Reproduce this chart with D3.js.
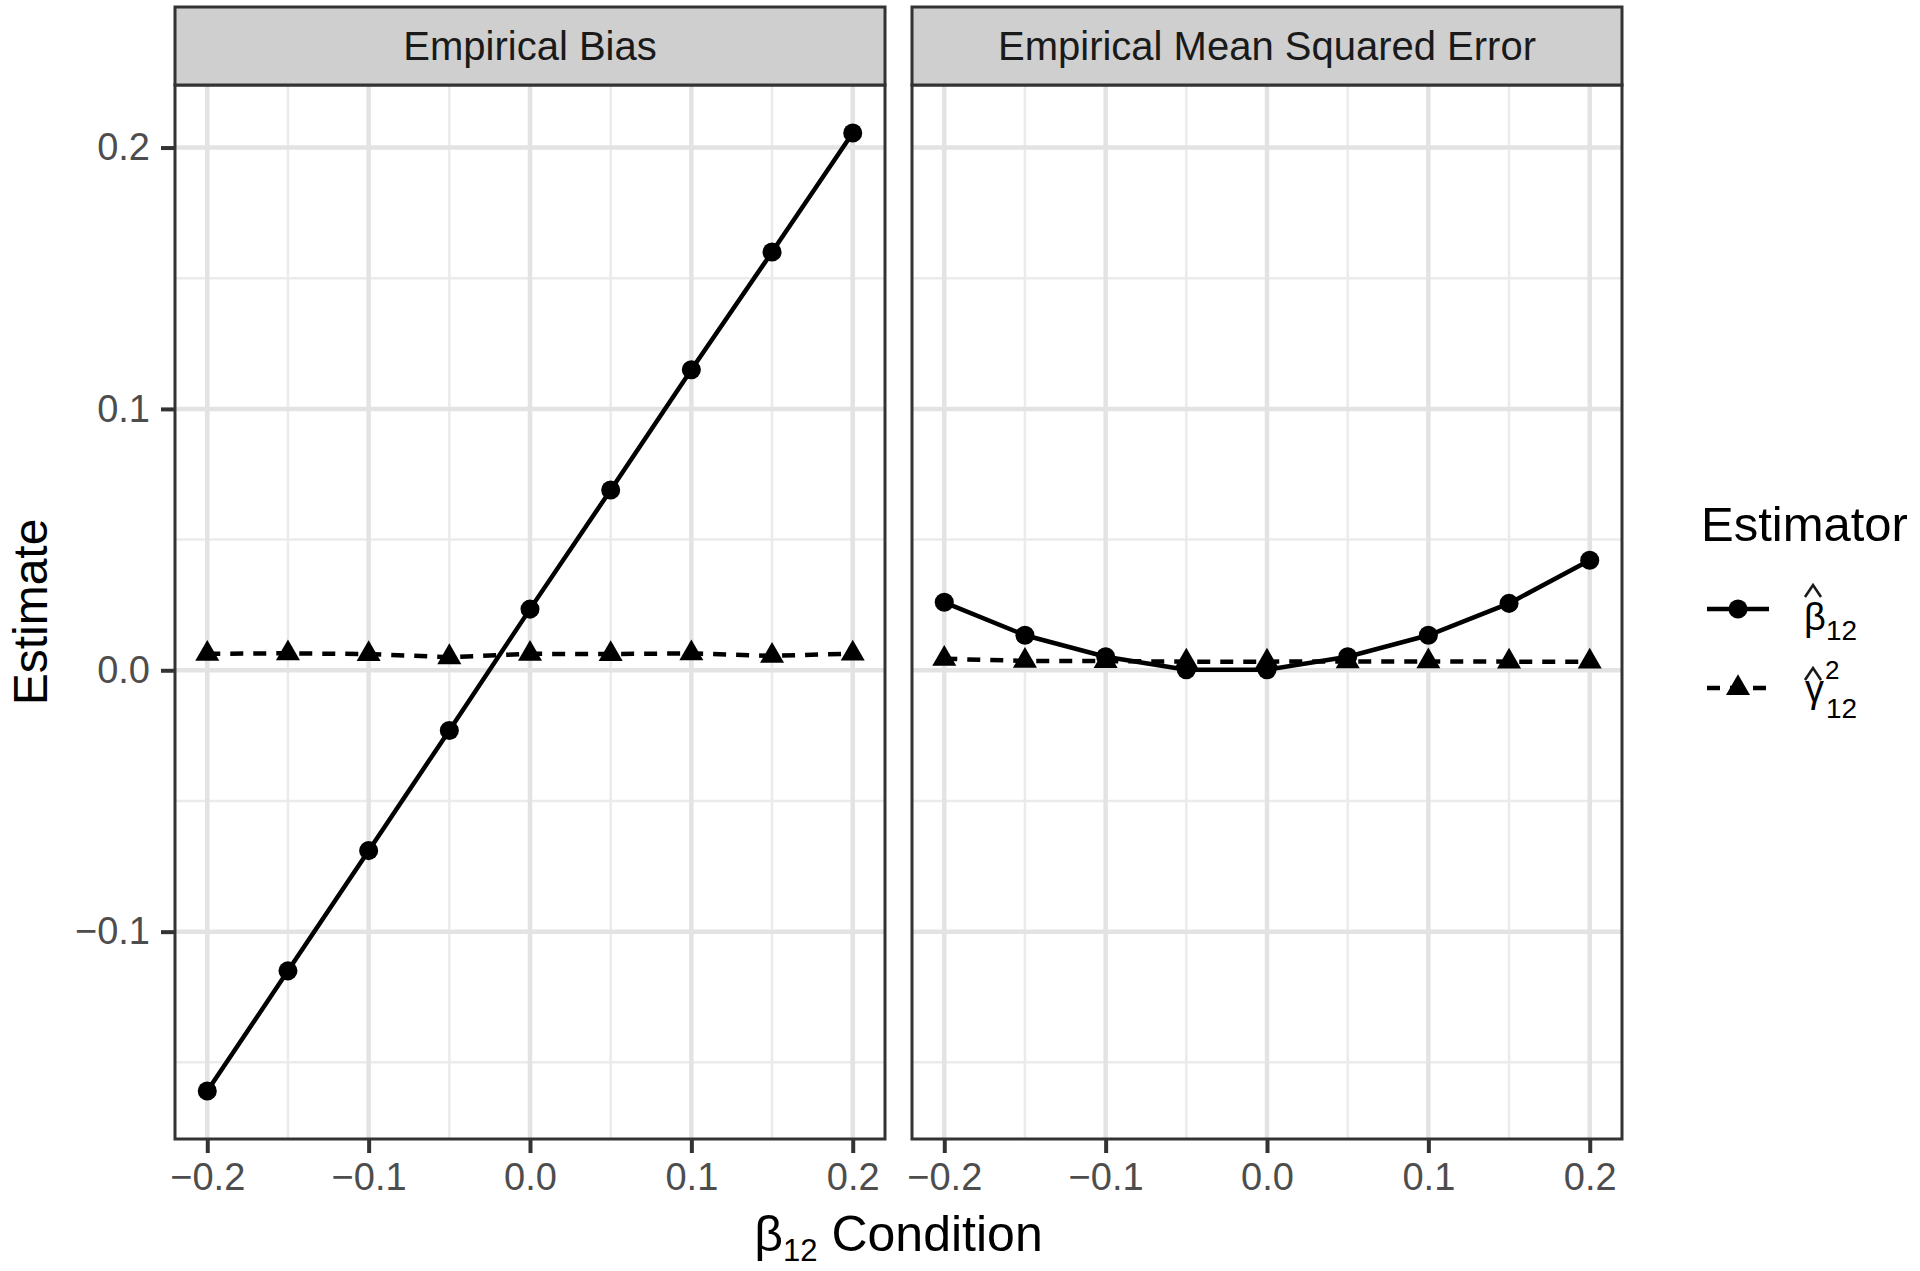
<!DOCTYPE html>
<html>
<head>
<meta charset="utf-8">
<script src="https://cdn.jsdelivr.net/npm/d3@7"></script>
<style>
  body { margin: 0; background: #fff; }
  svg text { font-family: "Liberation Sans", Arial, Helvetica, sans-serif; }
</style>
</head>
<body>
<svg id="chart" width="1920" height="1271"></svg>
<script>
// beta_12 conditions (x axis)
const conditions = [-0.2, -0.15, -0.1, -0.05, 0, 0.05, 0.1, 0.15, 0.2];
const xTicks = [-0.2, -0.1, 0, 0.1, 0.2];
const xMinor = [-0.15, -0.05, 0.05, 0.15];
const yTicks = [-0.1, 0, 0.1, 0.2];
const yMinor = [-0.15, -0.05, 0.05, 0.15];

// empirical bias
const biasBeta = [-0.161, -0.115, -0.069, -0.023, 0.0234, 0.069, 0.115, 0.160, 0.2056];
const biasGamma = [0.0063, 0.0065, 0.0062, 0.0050, 0.0063, 0.0062, 0.0065, 0.0055, 0.0064];
// empirical mean squared error
const mseBeta = [0.026, 0.0134, 0.0052, 0.0002, 0.0002, 0.0052, 0.0134, 0.0256, 0.0421];
const mseGamma = [0.0044, 0.0036, 0.0035, 0.0033, 0.0033, 0.0034, 0.0034, 0.0033, 0.0033];

const facets = ["Empirical Bias", "Empirical Mean Squared Error"];

const svg = d3.select("#chart");

// panel geometry
const panelTop = 85, panelBottom = 1139, stripTop = 7;
const panelX = [[175, 885], [912, 1622]];

// shared y scale, ggplot style 5% expansion
const allY = biasBeta.concat(biasGamma, mseBeta, mseGamma);
const yMin = d3.min(allY), yMax = d3.max(allY);
const pad = (yMax - yMin) * 0.05;
const y = d3.scaleLinear().domain([yMin - pad, yMax + pad]).range([panelBottom, panelTop]);

const xPad = 0.4 * 0.05;
const fmt = d => d === 0 ? "0.0" : (d < 0 ? "\u2212" : "") + Math.abs(d).toFixed(1);

const circle = d3.symbol(d3.symbolCircle, 285);
const triangle = d3.symbol(d3.symbolTriangle, 250);
const dash = "13,10";

const series = [
  [{vals: biasBeta, shape: "circle"}, {vals: biasGamma, shape: "triangle"}],
  [{vals: mseBeta, shape: "circle"}, {vals: mseGamma, shape: "triangle"}]
];

facets.forEach((name, i) => {
  const [x0, x1] = panelX[i];
  const x = d3.scaleLinear().domain([-0.2 - xPad, 0.2 + xPad]).range([x0, x1]);
  const g = svg.append("g");

  // minor grid
  g.selectAll(".vminor").data(xMinor).join("line")
    .attr("x1", d => x(d)).attr("x2", d => x(d))
    .attr("y1", panelTop).attr("y2", panelBottom)
    .attr("stroke", "#ebebeb").attr("stroke-width", 2.5);
  g.selectAll(".hminor").data(yMinor).join("line")
    .attr("x1", x0).attr("x2", x1)
    .attr("y1", d => y(d)).attr("y2", d => y(d))
    .attr("stroke", "#ebebeb").attr("stroke-width", 2.5);
  // major grid
  g.selectAll(".vmajor").data(xTicks).join("line")
    .attr("x1", d => x(d)).attr("x2", d => x(d))
    .attr("y1", panelTop).attr("y2", panelBottom)
    .attr("stroke", "#e3e3e3").attr("stroke-width", 4.5);
  g.selectAll(".hmajor").data(yTicks).join("line")
    .attr("x1", x0).attr("x2", x1)
    .attr("y1", d => y(d)).attr("y2", d => y(d))
    .attr("stroke", "#e3e3e3").attr("stroke-width", 4.5);

  // lines and points
  series[i].forEach(s => {
    const pts = conditions.map((c, k) => [c, s.vals[k]]);
    g.append("path")
      .datum(pts)
      .attr("d", d3.line().x(d => x(d[0])).y(d => y(d[1])))
      .attr("fill", "none")
      .attr("stroke", "#000")
      .attr("stroke-width", 4.5)
      .attr("stroke-dasharray", s.shape === "triangle" ? dash : null);
    g.selectAll(null).data(pts).join("path")
      .attr("d", s.shape === "circle" ? circle : triangle)
      .attr("transform", d => `translate(${x(d[0])},${y(d[1])})`)
      .attr("fill", "#000");
  });

  // panel border
  g.append("rect")
    .attr("x", x0).attr("y", panelTop)
    .attr("width", x1 - x0).attr("height", panelBottom - panelTop)
    .attr("fill", "none").attr("stroke", "#333").attr("stroke-width", 3);

  // strip
  g.append("rect")
    .attr("x", x0).attr("y", stripTop)
    .attr("width", x1 - x0).attr("height", panelTop - stripTop)
    .attr("fill", "#cfcfcf").attr("stroke", "#333").attr("stroke-width", 3);
  g.append("text")
    .attr("x", (x0 + x1) / 2).attr("y", 60)
    .attr("text-anchor", "middle")
    .attr("font-size", 40).attr("fill", "#1a1a1a")
    .text(name);

  // x axis
  const xa = g.append("g").attr("transform", `translate(0,${panelBottom})`)
    .call(d3.axisBottom(x).tickValues(xTicks).tickFormat(fmt).tickSize(14).tickPadding(10));
  xa.select(".domain").remove();
  xa.selectAll("line").attr("stroke", "#333").attr("stroke-width", 4);
  xa.selectAll("text").attr("font-size", 38).attr("fill", "#4d4d4d")
    .attr("font-family", "Liberation Sans, Arial, sans-serif");

  if (i === 0) {
    const ya = g.append("g").attr("transform", `translate(${x0},0)`)
      .call(d3.axisLeft(y).tickValues(yTicks).tickFormat(fmt).tickSize(14).tickPadding(11));
    ya.select(".domain").remove();
    ya.selectAll("line").attr("stroke", "#333").attr("stroke-width", 4);
    ya.selectAll("text").attr("font-size", 38).attr("fill", "#4d4d4d")
      .attr("font-family", "Liberation Sans, Arial, sans-serif");
  }
});

// axis titles
svg.append("text")
  .attr("transform", "translate(47,612) rotate(-90)")
  .attr("text-anchor", "middle")
  .attr("font-size", 48).attr("fill", "#000")
  .text("Estimate");

const xt = svg.append("text")
  .attr("x", (panelX[0][0] + panelX[1][1]) / 2).attr("y", 1251)
  .attr("text-anchor", "middle")
  .attr("font-size", 50).attr("fill", "#000");
xt.append("tspan").text("\u03b2");
xt.append("tspan").attr("font-size", 31).attr("dy", 10).text("12");
xt.append("tspan").attr("dy", -10).text(" Condition");

// legend
const leg = svg.append("g");
leg.append("text").attr("x", 1701).attr("y", 541)
  .attr("font-size", 49).attr("fill", "#000").text("Estimator");

const keys = [
  {y: 609, shape: "circle", dash: null},
  {y: 688, shape: "triangle", dash: dash}
];
keys.forEach(k => {
  leg.append("line")
    .attr("x1", 1707).attr("x2", 1769).attr("y1", k.y).attr("y2", k.y)
    .attr("stroke", "#000").attr("stroke-width", 4.5)
    .attr("stroke-dasharray", k.dash);
  leg.append("path")
    .attr("d", k.shape === "circle" ? circle : triangle)
    .attr("transform", `translate(1738,${k.y})`)
    .attr("fill", "#000");
});

// hat accent drawn above a symbol
function hat(cx, top) {
  leg.append("path")
    .attr("d", `M${cx - 8},${top + 12}L${cx},${top}L${cx + 8},${top + 12}`)
    .attr("fill", "none").attr("stroke", "#1a1a1a").attr("stroke-width", 2.6);
}

// beta-hat label
leg.append("text").attr("x", 1804).attr("y", 630).attr("font-size", 38).text("\u03b2");
hat(1813, 585);
leg.append("text").attr("x", 1826).attr("y", 640).attr("font-size", 28).text("12");
// gamma-hat squared label
leg.append("text").attr("x", 1805).attr("y", 702).attr("font-size", 38).text("\u03b3");
hat(1813, 668);
leg.append("text").attr("x", 1825).attr("y", 679).attr("font-size", 26).text("2");
leg.append("text").attr("x", 1826).attr("y", 718).attr("font-size", 28).text("12");
</script>
</body>
</html>
